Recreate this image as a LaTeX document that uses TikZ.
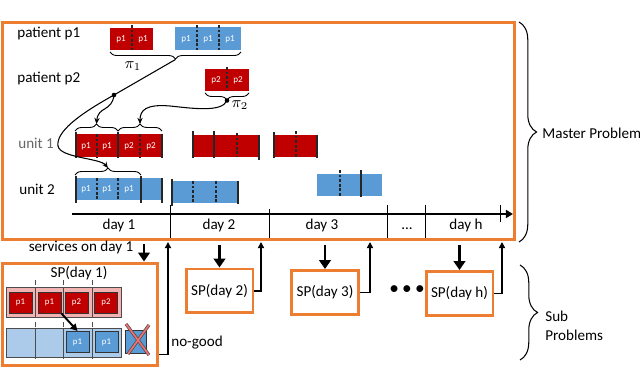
\documentclass[tikz,border=0pt]{standalone}
\usepackage{fontspec}
\setmainfont{Carlito}
\usepackage{tikz}
\usetikzlibrary{arrows.meta,positioning,calc,decorations.pathreplacing}
\definecolor{mpOrange}{RGB}{237,125,49}
\definecolor{unitRed}{RGB}{192,0,0}
\definecolor{unitBlue}{RGB}{91,155,213}
\definecolor{lightRed}{RGB}{242,178,178}
\definecolor{lightBlue}{RGB}{172,203,234}
\definecolor{crossRed}{RGB}{236,112,112}

\begin{document}
\begin{tikzpicture}[x=0.02cm, y=-0.02cm,
    every node/.style={font=\fontsize{8.6}{10.8}\selectfont, inner sep=0pt},
    plbl/.style={font=\fontsize{5.2}{5.5}\selectfont, text=white},
    mpframe/.style={draw=mpOrange, line width=1.7pt},
    spbox/.style={mpframe, minimum width=1.34cm, minimum height=0.88cm},
    dashcut/.style={black!85, line width=0.7pt, dash pattern=on 1.6pt off 1pt},
    solidcut/.style={black!85, line width=0.8pt},
    brc/.style={decorate, decoration={brace, amplitude=4pt}, line width=0.5pt},
    bigbrc/.style={decorate, decoration={brace, amplitude=10pt}, line width=0.6pt},
    flow/.style={line width=0.6pt, -{Stealth[length=3.5pt, width=3pt]}},
    dot/.style={circle, fill=black, minimum size=2.6pt},
    timeaxis/.style={line width=1.1pt, -{Triangle[length=4pt, width=4.5pt]}},
    tick/.style={line width=0.5pt},
    downarr/.style={line width=1.5pt, -{Triangle[length=5pt, width=6.5pt]}},
    uparr/.style={line width=0.9pt, -{Triangle[length=3.5pt, width=3.5pt]}},
    spcell/.style={draw=black!70, line width=0.5pt},
    spguide/.style={black!70, dashed, line width=0.5pt},
    rsq/.style={draw=black!80, fill=unitRed, line width=0.5pt, minimum width=0.46cm,
      minimum height=0.42cm, font=\fontsize{5}{5.5}\selectfont, text=white},
    bsq/.style={rsq, fill=unitBlue}
  ]
    \useasboundingbox (0,0) rectangle (640,388);
    % Master problem
    \node[mpframe, minimum width=10.26cm, minimum height=4.36cm] (mp) at (258.5,131) {};
    \node[anchor=base west] (lp1) at (17,37.5) {patient p1};
    \node[anchor=base west] (lp2) at (17,82.5) {patient p2};
    \node[anchor=base west, text=black!60] (lu1) at (18,149) {unit 1};
    \node[anchor=base west] (lu2) at (19,195) {unit 2};
    % Requests of p1 and p2
    \fill[unitRed] (110,28) rectangle (153,50);
    \draw[dashcut] (132,25) -- (132,50);
    \node[plbl] (r1a) at (121,39) {p1};
    \node[plbl] (r1b) at (143,39) {p1};
    \fill[unitBlue] (175,27) rectangle (241,50);
    \draw[dashcut] (197,25) -- (197,50);
    \draw[dashcut] (219,25) -- (219,50);
    \node[plbl] (r1c) at (186,39) {p1};
    \node[plbl] (r1d) at (208,39) {p1};
    \node[plbl] (r1e) at (230,39) {p1};
    \fill[unitRed] (205,69) rectangle (249,91);
    \draw[dashcut] (227,67) -- (227,91);
    \node[plbl] (r2a) at (216,80) {p2};
    \node[plbl] (r2b) at (238,80) {p2};
    \draw[brc] (241,52) -- (110,52);
    \coordinate (pi1) at (175.5,59.5);
    \node (pi1lbl) at (133,66) {$\pi_1$};
    \draw[brc] (249,93) -- (205,93);
    \coordinate (pi2) at (227,100.5);
    \node (pi2lbl) at (240,105) {$\pi_2$};
    % Unit 1
    \fill[unitRed] (75,134) rectangle (162,157);
    \draw[solidcut] (76,132) -- (76,158);
    \draw[dashcut] (97,134) -- (97,157);
    \draw[solidcut] (118,132) -- (118,158);
    \draw[dashcut] (140,134) -- (140,157);
    \draw[solidcut] (162,134) -- (162,158);
    \node[plbl] (u1a1) at (86,146) {p1};
    \node[plbl] (u1a2) at (107,146) {p1};
    \node[plbl] (u1a3) at (129,146) {p2};
    \node[plbl] (u1a4) at (151,146) {p2};
    \fill[unitRed] (193,135) rectangle (259,157);
    \draw[solidcut] (193,131) -- (193,158);
    \draw[solidcut] (214,131) -- (214,158);
    \draw[dashcut] (237,133) -- (237,157);
    \draw[solidcut] (259,135) -- (259,160);
    \fill[unitRed] (274,135) rectangle (317,157);
    \draw[solidcut] (274,132) -- (274,158);
    \draw[dashcut] (296,131) -- (296,157);
    \draw[solidcut] (317,135) -- (317,158);
    \draw[brc] (75,131) -- (118,131);
    \coordinate (u1a) at (96.5,124);
    \draw[brc] (118,131) -- (162,131);
    \coordinate (u1b) at (140,124);
    % Unit 2
    \fill[unitBlue] (75,178) rectangle (162,200);
    \draw[solidcut] (76,176) -- (76,203);
    \draw[dashcut] (97,178) -- (97,200);
    \draw[dashcut] (118,178) -- (118,200);
    \draw[solidcut] (141,176) -- (141,203);
    \draw[solidcut] (162,178) -- (162,203);
    \node[plbl] (u2a1) at (86,189) {p1};
    \node[plbl] (u2a2) at (107,189) {p1};
    \node[plbl] (u2a3) at (129,189) {p1};
    \fill[unitBlue] (172,181) rectangle (238,203);
    \draw[solidcut] (172,179) -- (172,206);
    \draw[dashcut] (193,181) -- (193,203);
    \draw[dashcut] (216,181) -- (216,203);
    \draw[solidcut] (238,181) -- (238,204);
    \fill[unitBlue] (317,174) rectangle (382,196);
    \draw[dashcut] (340,170) -- (340,196);
    \draw[solidcut] (361,170) -- (361,197);
    \draw[brc] (75,175) -- (141,175);
    \coordinate (u2a) at (108,168);
    % Assignment links
    \node[dot] (hub) at (114,95) {};
    \node[dot] (hub2) at (pi2) {};
    \draw[line width=0.6pt] (pi1) -- (hub.center);
    \draw[flow] (hub.center) .. controls (78,115) and (56,132) .. (58,146)
      .. controls (60,158) and (100,158) .. (u2a);
    \draw[flow] (hub.center) .. controls (112,112) and (98,106) .. (u1a);
    \draw[flow] (hub2.center) .. controls (222,113) and (190,108) .. (170,106)
      .. controls (146,104) and (140,110) .. (u1b);
    % Time axis
    \coordinate (t0) at (72,214);
    \coordinate (t1) at (513,214);
    \draw[timeaxis] (t0) -- (t1);
    \draw[tick] (170,205) -- (170,238);
    \draw[tick] (269,209) -- (269,238);
    \draw[tick] (387,205) -- (387,238);
    \draw[tick] (425,205) -- (425,238);
    \draw[tick] (500,205) -- (500,222);
    \node[anchor=base] (d1) at (119,230) {day 1};
    \node[anchor=base] (d2) at (219,230) {day 2};
    \node[anchor=base] (d3) at (322,230) {day 3};
    \node[anchor=base] (dd) at (407,230) {...};
    \node[anchor=base] (dh) at (466,230) {day h};
    % Brackets on the right
    \draw[bigbrc] (519,22) -- (519,242);
    \node[anchor=base west] (mplbl) at (542,139) {Master Problem};
    \draw[bigbrc] (520,265) -- (520,360);
    \node[anchor=west, align=left] (splbl) at (545,326) {Sub\\Problems};
    % Sub problem of day 1
    \node[anchor=base] (svc) at (81,252) {services on day 1};
    \node[mpframe, minimum width=3.12cm, minimum height=2.06cm] (sp1) at (80,314.5) {};
    \node[anchor=base] (sp1lbl) at (79,278) {SP(day 1)};
    \draw[spcell, fill=lightRed] (6,287) rectangle (35,317);
    \draw[spcell, fill=lightRed] (35,287) rectangle (63,317);
    \draw[spcell, fill=lightRed] (63,287) rectangle (92,317);
    \draw[spcell, fill=lightRed] (92,287) rectangle (121,317);
    \draw[spcell, fill=lightBlue] (6,328) rectangle (35,357);
    \draw[spcell, fill=lightBlue] (35,328) rectangle (63,357);
    \draw[spcell, fill=lightBlue] (63,328) rectangle (92,357);
    \draw[spcell, fill=lightBlue] (92,328) rectangle (121,357);
    \draw[spguide] (35,280) -- (35,364);
    \draw[spguide] (63,280) -- (63,364);
    \draw[spguide] (92,280) -- (92,364);
    \node[rsq] (s1) at (20.5,302.5) {p1};
    \node[rsq] (s2) at (49.5,302.5) {p1};
    \node[rsq] (s3) at (76.5,302.5) {p2};
    \node[rsq] (s4) at (106,302.5) {p2};
    \node[bsq] (b1) at (77.5,342) {p1};
    \node[bsq] (b2) at (106.5,342) {p1};
    \node[bsq, minimum width=0.42cm, minimum height=0.46cm] (bx) at (135.5,341.5) {};
    \draw[black!70, line width=1.8pt] (126,324) -- (149,355);
    \draw[black!70, line width=1.8pt] (149,325) -- (128,354);
    \draw[crossRed, line width=1pt] (126,324) -- (149,355);
    \draw[crossRed, line width=1pt] (149,325) -- (128,354);
    \draw[line width=1.1pt, -{Triangle[length=4pt, width=4pt]}] (s2.south east) -- (b1.north);
    % Other sub problems
    \node[spbox] (sp2) at (219.5,291) {SP(day 2)};
    \node[spbox] (sp3) at (325,292.5) {SP(day 3)};
    \node[font=\fontsize{11}{12}\selectfont] (gap) at (407,290) {\textbullet\,\textbullet\,\textbullet};
    \node[spbox] (sph) at (459.5,293.5) {SP(day h)};
    % Services sent down
    \coordinate (o1) at (144,244);
    \coordinate (o2) at (219.5,245);
    \coordinate (o3) at (325,245);
    \coordinate (oh) at (459.5,245);
    \draw[downarr] (o1) -- (o1 |- sp1.north);
    \draw[downarr] (o2) -- (sp2.north);
    \draw[downarr] (o3) -- (sp3.north);
    \draw[downarr] (oh) -- (sph.north);
    % No-goods sent back
    \coordinate (in1) at (168,242);
    \coordinate (in2) at (261,242);
    \coordinate (in3) at (370,242);
    \coordinate (inh) at (502,242);
    \draw[uparr] ([yshift=0.26cm]sp1.south east) -| (in1);
    \node[anchor=base west] (nogood) at (171,347) {no-good};
    \draw[uparr] (sp2.east) -| (in2);
    \draw[uparr] (sp3.east) -| (in3);
    \draw[uparr] (sph.east) -| (inh);
\end{tikzpicture}
\end{document}
